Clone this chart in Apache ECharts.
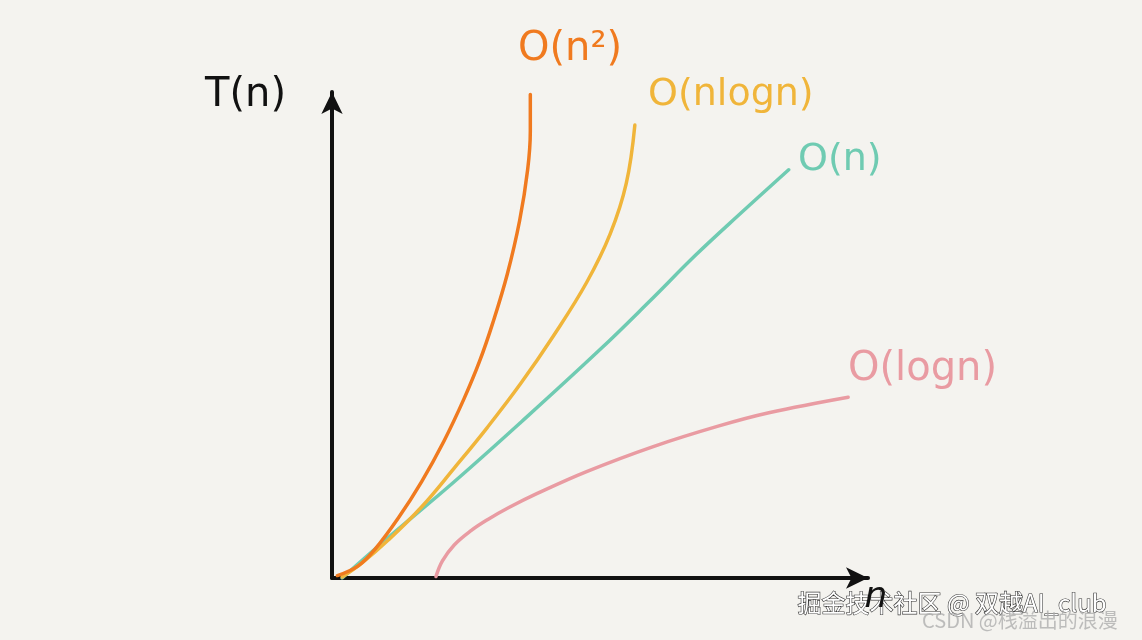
<!DOCTYPE html>
<html>
<head>
<meta charset="utf-8">
<script src="https://cdn.jsdelivr.net/npm/echarts@6/dist/echarts.min.js"></script>
<style>
html,body{margin:0;padding:0;background:#F4F3EF;}
#c{width:1142px;height:640px;}
</style>
</head>
<body>
<div id="c"></div>
<script>
// Series names and values (x = problem size n, y = time T(n), in relative units 0..100)
const seriesNames = ['O(n²)', 'O(nlogn)', 'O(n)', 'O(logn)'];
const seriesColors = ['#F07A1F', '#F0B53A', '#6FCBB2', '#E99BA2'];

const quadratic = [
  [1.0, 0.5], [4.9, 2.5], [8.0, 5.9], [12.4, 12.4], [16.7, 19.8], [20.9, 28.2],
  [24.6, 36.8], [27.5, 44.5], [30.0, 52.5], [32.7, 62.5], [35.0, 73.5],
  [36.5, 84.0], [37.0, 92.0], [37.0, 99.5]
];
const linearithmic = [
  [1.9, 0.2], [5.6, 3.1], [10.5, 7.8], [16.7, 14.6], [22.8, 22.6], [29.0, 31.0],
  [35.2, 40.0], [41.3, 49.8], [47.5, 60.8], [51.9, 70.8], [54.9, 81.2], [56.5, 93.2]
];
const linear = [
  [1.9, 0.0], [10.5, 8.3], [22.8, 19.8], [35.2, 32.0], [50.0, 47.0],
  [59.3, 57.0], [67.9, 66.5], [76.5, 75.3], [85.2, 84.0]
];
const logarithmic = [
  [19.4, 0.3], [20.6, 3.5], [22.8, 6.8], [26.0, 9.8], [29.0, 12.0], [33.0, 14.5],
  [38.3, 17.4], [47.5, 21.9], [59.8, 27.0], [72.2, 31.3], [81.5, 34.0], [96.3, 37.2]
];
const seriesData = [quadratic, linearithmic, linear, logarithmic];

const xAxisName = 'n';
const yAxisName = 'T(n)';
const watermark1 = '掘金技术社区 @ 双越AI_club';
const watermark2 = 'CSDN @栈溢出的浪漫';

const chart = echarts.init(document.getElementById('c'));

const labelPos = [
  {x: 518, y: 30, size: 40},
  {x: 648, y: 76, size: 38},
  {x: 798, y: 141, size: 38},
  {x: 848, y: 350, size: 40}
];

const option = {
  backgroundColor: '#F4F3EF',
  animation: false,
  grid: {left: 332, right: 274, top: 92, bottom: 62},
  xAxis: {
    type: 'value', min: 0, max: 100,
    name: xAxisName, nameLocation: 'end', nameGap: 8,
    nameTextStyle: {fontSize: 36, color: '#111', fontStyle: 'italic', fontFamily: 'DejaVu Sans',
      verticalAlign: 'top', align: 'center', padding: [2, 0, 0, 0]},
    axisLine: {show: true, symbol: ['none', 'arrow'], symbolSize: [16, 22],
      lineStyle: {color: '#111', width: 4, cap: 'round'}},
    axisTick: {show: false}, axisLabel: {show: false}, splitLine: {show: false}
  },
  yAxis: {
    type: 'value', min: 0, max: 100,
    name: yAxisName, nameLocation: 'end', nameGap: -4,
    nameTextStyle: {fontSize: 40, color: '#111', fontFamily: 'DejaVu Sans',
      align: 'right', verticalAlign: 'middle', padding: [0, 46, 0, 0]},
    axisLine: {show: true, symbol: ['none', 'arrow'], symbolSize: [16, 22],
      lineStyle: {color: '#111', width: 4, cap: 'round'}},
    axisTick: {show: false}, axisLabel: {show: false}, splitLine: {show: false}
  },
  series: seriesNames.map((name, i) => ({
    name: name,
    type: 'line',
    data: seriesData[i],
    smooth: 0.4,
    showSymbol: false,
    z: 3 + (3 - i),
    lineStyle: {color: seriesColors[i], width: 3.5, cap: 'round'},
    itemStyle: {color: seriesColors[i]}
  })),
  graphic: seriesNames.map((name, i) => ({
    type: 'text', left: labelPos[i].x, top: labelPos[i].y,
    style: {text: name, fill: seriesColors[i], font: labelPos[i].size + 'px "DejaVu Sans"'}
  })).concat([
    {type: 'text', left: 797, top: 590,
      style: {text: watermark1, fill: '#ffffff', stroke: '#333', lineWidth: 1.2,
        font: '24px "Noto Sans CJK SC"'}},
    {type: 'text', left: 922, top: 610,
      style: {text: watermark2, fill: 'rgba(170,170,170,0.75)',
        font: '20px "Noto Sans CJK SC"'}}
  ])
};
chart.setOption(option);
</script>
</body>
</html>
